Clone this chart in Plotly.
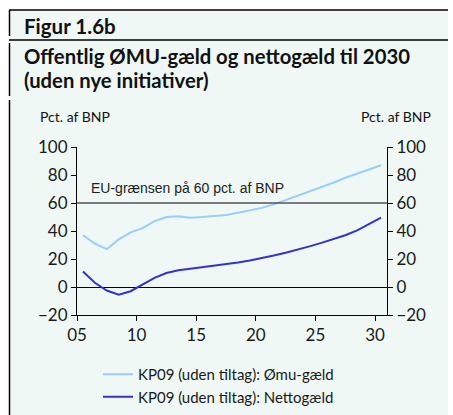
import plotly.graph_objects as go

# === Data ===
years = list(range(2005, 2031))
omu_gaeld = [37, 31, 27, 34, 39, 42, 47, 50, 50.5, 49.5, 50, 50.5, 51.5, 53, 54.5,
             56.5, 59, 62, 65, 68, 71, 74.5, 78, 81, 84, 87]
nettogaeld = [11, 3, -2.5, -5.5, -3, 2, 6.5, 10, 12, 13, 14, 15, 16, 17.5, 19,
              20.5, 22.5, 24.5, 26.5, 29, 31.5, 34, 37, 40.5, 45, 49.5]
eu_limit = 60
tick_years = [2005, 2010, 2015, 2020, 2025, 2030]
tick_labels = ['05', '10', '15', '20', '25', '30']

W, H = 453, 415
L, R, T, B = 77, 66, 147, 100
FONT = 'Lato'
BG = '#eff8f5'

# punkter midt i året
x_mid = [y + 0.5 for y in years]

fig = go.Figure()

fig.add_trace(go.Scatter(
    x=x_mid, y=omu_gaeld, mode='lines',
    name='KP09 (uden tiltag): Ømu-gæld',
    line=dict(color='#99ccff', width=2),
))
fig.add_trace(go.Scatter(
    x=x_mid, y=nettogaeld, mode='lines',
    name='KP09 (uden tiltag): Nettogæld',
    line=dict(color='#3333cc', width=2),
))
# usynlig trace for at vise højre akse
fig.add_trace(go.Scatter(x=[years[0]], y=[None], yaxis='y2', showlegend=False,
                         hoverinfo='skip'))

# EU-grænse
fig.add_hline(y=eu_limit, line_color='#555555', line_width=1.5)
fig.add_annotation(x=2006.0, y=70.5, xref='x', yref='y', text='EU-grænsen på 60 pct. af BNP',
                   showarrow=False, xanchor='left', yanchor='middle',
                   font=dict(family='Liberation Sans', size=14, color='#222222'))

axis_font = dict(size=17, family=FONT, color='#1a1a1a')

fig.update_layout(
    width=W, height=H,
    paper_bgcolor=BG,
    plot_bgcolor=BG,
    margin=dict(l=L, r=R, t=T, b=B, autoexpand=False),
    font=dict(family=FONT, color='#1a1a1a'),
    showlegend=True,
    legend=dict(
        x=(98 - L) / (W - L - R), y=-(358 - (H - B)) / (H - T - B),
        xanchor='left', yanchor='top',
        font=dict(size=15, color='#1a1a1a', family=FONT),
        bgcolor='rgba(0,0,0,0)', itemwidth=30, tracegroupgap=0,
    ),
    xaxis=dict(
        range=[2005, 2031], tickvals=tick_years, ticktext=tick_labels,
        showgrid=False, zeroline=False, showline=True, linecolor='black', linewidth=1,
        ticks='outside', ticklen=5, tickcolor='black', tickfont=axis_font,
    ),
    yaxis=dict(
        range=[-20, 100], dtick=20, showgrid=False,
        zeroline=True, zerolinecolor='black', zerolinewidth=1,
        showline=True, linecolor='black', linewidth=1,
        ticks='outside', ticklen=5, tickcolor='black', tickfont=axis_font,
    ),
    yaxis2=dict(
        range=[-20, 100], dtick=20, overlaying='y', side='right', showgrid=False,
        zeroline=False, showline=True, linecolor='black', linewidth=1,
        ticks='outside', ticklen=5, tickcolor='black', tickfont=axis_font,
    ),
    hovermode=False,
)

# Rammer i pixel -> paper-koordinater
pw, ph = W - L - R, H - T - B

def ppx(x):
    return (x - L) / pw

def ppy(y):
    return (H - B - y) / ph

frame = [
    # hvide kanter
    dict(type='rect', x0=ppx(0), x1=ppx(9), y0=ppy(H), y1=ppy(0)),
    dict(type='rect', x0=ppx(448), x1=ppx(W), y0=ppy(H), y1=ppy(0)),
    dict(type='rect', x0=ppx(0), x1=ppx(W), y0=ppy(10), y1=ppy(0)),
]
for f in frame:
    fig.add_shape(xref='paper', yref='paper', fillcolor='white', line_width=0,
                  layer='below', **f)

lines = [
    (9, 10, 448, 10),
    (9, 40, 448, 40),
    (9.5, 10, 9.5, 36),
    (9.5, 43, 9.5, 96),
    (9.5, 100, 9.5, H),
]
for x0, y0, x1, y1 in lines:
    fig.add_shape(type='line', xref='paper', yref='paper',
                  x0=ppx(x0), x1=ppx(x1), y0=ppy(y0), y1=ppy(y1),
                  line=dict(color='black', width=1.5))

# Titler
texts = [
    ('Figur 1.6b', 22, 26, 20.5, True),
    ('Offentlig ØMU-gæld og nettogæld til 2030', 22, 56, 20.3, True),
    ('(uden nye initiativer)', 22, 80, 20.3, True),
    ('Pct. af BNP', 38, 116, 14, False),
]
for txt, x, y, size, bold in texts:
    fig.add_annotation(xref='paper', yref='paper', x=ppx(x), y=ppy(y),
                       text=f'<b>{txt}</b>' if bold else txt, showarrow=False,
                       xanchor='left', yanchor='middle',
                       font=dict(family=FONT, size=size, color='#111111'))
fig.add_annotation(xref='paper', yref='paper', x=ppx(433), y=ppy(116),
                   text='Pct. af BNP', showarrow=False, xanchor='right', yanchor='middle',
                   font=dict(family=FONT, size=14, color='#111111'))

fig.write_html('out.html', config={'displayModeBar': False},
               post_script="document.body.style.margin='0';")
